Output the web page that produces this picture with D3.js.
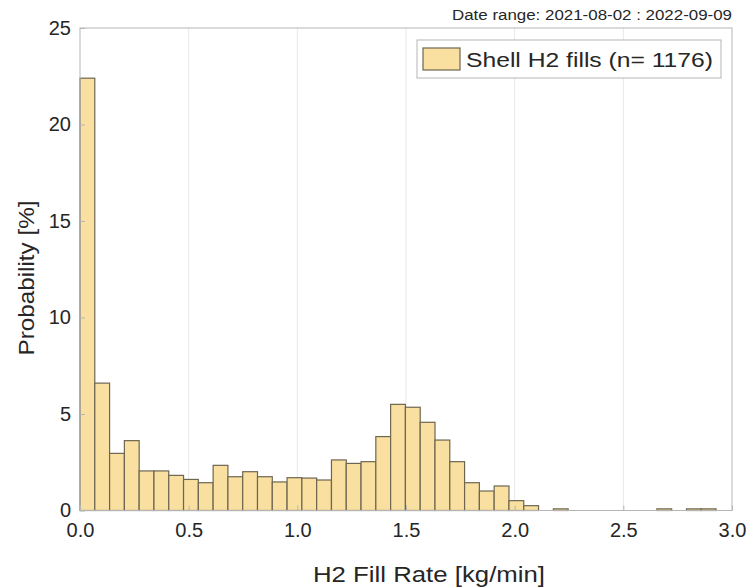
<!DOCTYPE html>
<html>
<head>
<meta charset="utf-8">
<script src="https://cdn.jsdelivr.net/npm/d3@7"></script>
<style>
  body { margin: 0; background: #fff; }
  text { font-family: "Liberation Sans", Arial, sans-serif; fill: #262626; }
</style>
</head>
<body>
<div id="chart-area"></div>
<script>
const W = 751, H = 587
const MARGIN = { LEFT: 80, RIGHT: 19, TOP: 28, BOTTOM: 76.5 }
const WIDTH = W - MARGIN.LEFT - MARGIN.RIGHT
const HEIGHT = H - MARGIN.TOP - MARGIN.BOTTOM

// histogram data, 43 bins from 0 to ~2.93 kg/min, probability in %
const binWidth = 0.06806
const probs = [22.4, 6.6, 2.96, 3.62, 2.05, 2.05, 1.82, 1.61, 1.44, 2.34,
  1.75, 2.01, 1.75, 1.48, 1.70, 1.68, 1.58, 2.62, 2.44, 2.53,
  3.83, 5.50, 5.35, 4.57, 3.65, 2.53, 1.44, 1.01, 1.27, 0.51,
  0.25, 0, 0.085, 0, 0, 0, 0, 0, 0, 0.085,
  0, 0.085, 0.085]
const xTicks = [0, 0.5, 1.0, 1.5, 2.0, 2.5, 3.0]
const yTicks = [0, 5, 10, 15, 20, 25]
const legendLabel = "Shell H2 fills (n= 1176)"
const dateRange = "Date range: 2021-08-02 : 2022-09-09"

const bins = probs.map((p, i) => ({ x0: i * binWidth, x1: (i + 1) * binWidth, p }))

const svg = d3.select("#chart-area").append("svg")
  .attr("width", W)
  .attr("height", H)

const g = svg.append("g")
  .attr("transform", `translate(${MARGIN.LEFT}, ${MARGIN.TOP})`)

const x = d3.scaleLinear().domain([0, 3]).range([0, WIDTH])
const y = d3.scaleLinear().domain([0, 25]).range([HEIGHT, 0])

// vertical grid
g.append("g").selectAll("line")
  .data(xTicks.slice(1, -1))
  .join("line")
  .attr("x1", d => x(d)).attr("x2", d => x(d))
  .attr("y1", 0).attr("y2", HEIGHT)
  .attr("stroke", "#e8e8e8")
  .attr("stroke-width", 1)

// bars
g.append("g").selectAll("rect")
  .data(bins.filter(d => d.p > 0))
  .join("rect")
  .attr("x", d => x(d.x0))
  .attr("y", d => y(d.p))
  .attr("width", d => x(d.x1) - x(d.x0))
  .attr("height", d => HEIGHT - y(d.p))
  .attr("fill", "#f9e0a0")
  .attr("stroke", "#6e6651")
  .attr("stroke-width", 1.2)

// box
g.append("rect")
  .attr("x", 0).attr("y", 0)
  .attr("width", WIDTH).attr("height", HEIGHT)
  .attr("fill", "none")
  .attr("stroke", "#b5b5b5")
  .attr("stroke-width", 1)

// axes
const xAxis = g.append("g")
  .attr("transform", `translate(0, ${HEIGHT})`)
  .call(d3.axisBottom(x).tickValues(xTicks).tickFormat(d3.format(".1f")).tickSizeInner(-5).tickSizeOuter(0))
const yAxis = g.append("g")
  .call(d3.axisLeft(y).tickValues(yTicks).tickSizeInner(-5).tickSizeOuter(0))

;[xAxis, yAxis].forEach(a => {
  a.select(".domain").remove()
  a.selectAll(".tick line").attr("stroke", "#b5b5b5")
  a.selectAll(".tick text")
    .style("font-family", "Liberation Sans, Arial, sans-serif")
    .style("font-size", "20px")
    .attr("fill", "#262626")
})
xAxis.selectAll(".tick text").attr("dy", "0.95em").attr("y", 7)
yAxis.selectAll(".tick text").attr("x", -9)

// axis titles
g.append("text")
  .attr("x", 429 - MARGIN.LEFT)
  .attr("y", HEIGHT + 71)
  .attr("text-anchor", "middle")
  .attr("textLength", 232)
  .attr("lengthAdjust", "spacingAndGlyphs")
  .style("font-size", "22px")
  .text("H2 Fill Rate [kg/min]")

g.append("text")
  .attr("transform", `translate(-46, ${278 - MARGIN.TOP}) rotate(-90)`)
  .attr("text-anchor", "middle")
  .attr("textLength", 155)
  .attr("lengthAdjust", "spacingAndGlyphs")
  .style("font-size", "22px")
  .text("Probability [%]")

// date range note
svg.append("text")
  .attr("x", MARGIN.LEFT + WIDTH)
  .attr("y", 20)
  .attr("text-anchor", "end")
  .attr("textLength", 280)
  .attr("lengthAdjust", "spacingAndGlyphs")
  .style("font-size", "14px")
  .text(dateRange)

// legend
const legend = g.append("g")
  .attr("transform", `translate(${WIDTH - 315}, 12)`)
legend.append("rect")
  .attr("width", 304).attr("height", 38)
  .attr("fill", "#fff")
  .attr("stroke", "#b5b5b5")
legend.append("rect")
  .attr("x", 6).attr("y", 8)
  .attr("width", 37).attr("height", 22)
  .attr("fill", "#f9e0a0")
  .attr("stroke", "#6e6651")
  .attr("stroke-width", 1.2)
legend.append("text")
  .attr("x", 49).attr("y", 27)
  .attr("textLength", 247)
  .attr("lengthAdjust", "spacingAndGlyphs")
  .style("font-size", "21px")
  .text(legendLabel)
</script>
</body>
</html>
